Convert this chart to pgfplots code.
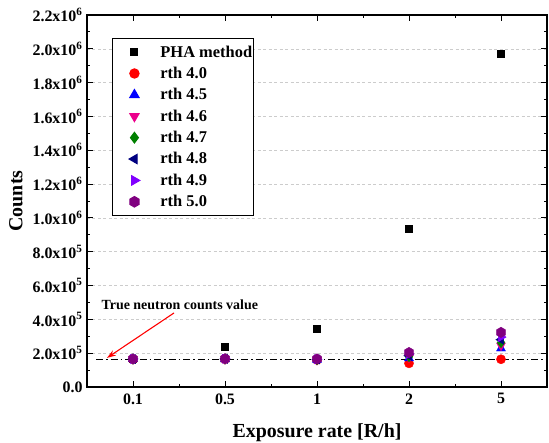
\documentclass[border=0pt]{standalone}
\usepackage{pgfplots}
\pgfplotsset{compat=1.18}
\usetikzlibrary{arrows.meta}
\usepackage{fontspec}
\setmainfont{Liberation Serif}
\definecolor{cnavy}{RGB}{0,0,128}
\definecolor{cviolet}{RGB}{128,0,255}
\definecolor{cpurple}{RGB}{128,0,128}
\definecolor{cgreen}{RGB}{0,128,0}
\pgfdeclareplotmark{hexagon*}{%
  \pgfpathmoveto{\pgfqpointpolar{90}{\pgfplotmarksize}}%
  \pgfpathlineto{\pgfqpointpolar{150}{\pgfplotmarksize}}%
  \pgfpathlineto{\pgfqpointpolar{210}{\pgfplotmarksize}}%
  \pgfpathlineto{\pgfqpointpolar{270}{\pgfplotmarksize}}%
  \pgfpathlineto{\pgfqpointpolar{330}{\pgfplotmarksize}}%
  \pgfpathlineto{\pgfqpointpolar{30}{\pgfplotmarksize}}%
  \pgfpathclose\pgfusepathqfillstroke}
\pgfplotsset{mylegend/.style={legend image code/.code={%
    \path[draw=none] (0bp,0bp) -- (35bp,0bp);
    \draw[##1] plot coordinates {(22bp,0bp)};}}}
\begin{document}
\begin{tikzpicture}
\begin{axis}[
  name=ax,
  scale only axis,
  width=460bp, height=372bp,
  xmin=-0.5, xmax=4.5,
  ymin=0, ymax=2.2e6,
  xtick={0,1,2,3,4},
  xticklabels={0.1,0.5,1,2,5},
  minor xtick={0.5,1.5,2.5,3.5},
  ytick={0,2e5,4e5,6e5,8e5,1e6,1.2e6,1.4e6,1.6e6,1.8e6,2e6,2.2e6},
  yticklabels={0.0,
    2.0x10\textsuperscript{5},4.0x10\textsuperscript{5},6.0x10\textsuperscript{5},8.0x10\textsuperscript{5},
    1.0x10\textsuperscript{6},1.2x10\textsuperscript{6},1.4x10\textsuperscript{6},1.6x10\textsuperscript{6},
    1.8x10\textsuperscript{6},2.0x10\textsuperscript{6},2.2x10\textsuperscript{6}},
  minor ytick={1e5,3e5,5e5,7e5,9e5,1.1e6,1.3e6,1.5e6,1.7e6,1.9e6,2.1e6},
  scaled y ticks=false,
  tick align=inside,
  major tick length=6bp, minor tick length=3.5bp,
  tick style={black, line width=1pt},
  axis line style={line width=1.2pt},
  ymajorgrids,
  major grid style={dash pattern=on 3bp off 2.5bp, gray!40, line width=0.6pt},
  ticklabel style={font=\bfseries\fontsize{16}{17}\selectfont},
  yticklabel style={xshift=-1bp},
  xticklabel style={yshift=-3bp},
  xlabel={Exposure rate [R/h]},
  ylabel={Counts},
  label style={font=\bfseries\fontsize{20}{22}\selectfont},
  xlabel style={yshift=-12bp},
  ylabel style={yshift=3bp},
  legend style={at={(rel axis cs:0.054,0.938)}, anchor=north west,
    draw=black, line width=1.2pt, font=\bfseries\fontsize{16.5}{19}\selectfont,
    nodes={inner xsep=1bp},
    row sep=4.5bp, column sep=12bp, inner xsep=0bp, inner ysep=5bp},
  legend cell align=left,
  clip=false,
]
\addplot[black, dash pattern=on 7bp off 3bp on 1.5bp off 3bp, line width=0.8pt, forget plot] coordinates {(-0.4,1.65e5) (4.5,1.65e5)};

\addplot[only marks, mylegend, mark=square*, mark size=3.4bp, black] coordinates {
 (0,1.65e5) (1,2.36e5) (2,3.47e5) (3,9.35e5) (4,1.97e6)};
\addlegendentry{PHA method}
\addplot[only marks, mylegend, mark=*, mark size=4.6bp, red, mark options={fill=red, draw=red}] coordinates {
 (0,1.65e5) (1,1.65e5) (2,1.6e5) (3,1.4e5) (4,1.64e5)};
\addlegendentry{rth 4.0}
\addplot[only marks, mylegend, mark=triangle*, mark size=5.2bp, blue, mark options={fill=blue}] coordinates {
 (0,1.65e5) (1,1.64e5) (2,1.6e5) (3,1.7e5) (4,2.28e5)};
\addlegendentry{rth 4.5}
\addplot[only marks, mylegend, mark=triangle*, mark size=5.2bp, magenta, mark options={fill=magenta, rotate=180}] coordinates {
 (0,1.65e5) (1,1.65e5) (2,1.6e5) (3,1.75e5) (4,2.45e5)};
\addlegendentry{rth 4.6}
\addplot[only marks, mylegend, mark=diamond*, mark size=5.2bp, cgreen, mark options={fill=cgreen}] coordinates {
 (0,1.65e5) (1,1.65e5) (2,1.62e5) (3,1.8e5) (4,2.63e5)};
\addlegendentry{rth 4.7}
\addplot[only marks, mylegend, mark=triangle*, mark size=5.2bp, cnavy, mark options={fill=cnavy, rotate=90}] coordinates {
 (0,1.65e5) (1,1.66e5) (2,1.63e5) (3,1.85e5) (4,2.8e5)};
\addlegendentry{rth 4.8}
\addplot[only marks, mylegend, mark=triangle*, mark size=5.2bp, cviolet, mark options={fill=cviolet, rotate=-90}] coordinates {
 (0,1.66e5) (1,1.67e5) (2,1.64e5) (3,1.95e5) (4,2.95e5)};
\addlegendentry{rth 4.9}
\addplot[only marks, mylegend, mark=hexagon*, mark size=5.2bp, cpurple, mark options={fill=cpurple}] coordinates {
 (0,1.66e5) (1,1.67e5) (2,1.66e5) (3,2.04e5) (4,3.23e5)};
\addlegendentry{rth 5.0}

\node[font=\bfseries\fontsize{14}{15}\selectfont, anchor=west] at (axis cs:-0.38,4.85e5) {True neutron counts value};
\draw[red, -{Stealth[length=9bp,width=6bp]}, line width=1.1pt] (axis cs:0.446,4.38e5) -- (axis cs:-0.283,1.72e5);
\end{axis}
\pgfresetboundingbox
\path ([shift={(-87bp,-56bp)}]ax.south west) rectangle ([shift={(2bp,15bp)}]ax.north east);
\end{tikzpicture}
\end{document}
